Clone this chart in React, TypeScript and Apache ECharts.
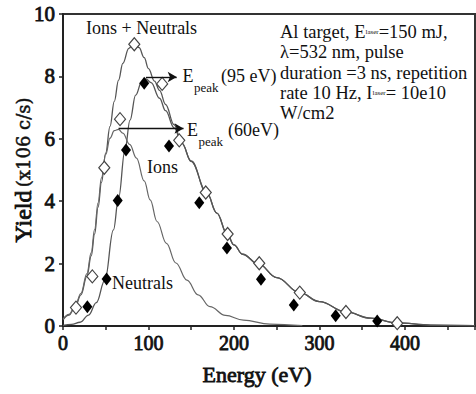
import React, { useEffect, useRef } from 'react';
import * as echarts from 'echarts';

// Measured points: ions + neutrals (open diamonds)
const totalEnergy = [15.2, 34.3, 48.3, 66.7, 83.4, 116, 136, 167, 192.6, 229.6, 277, 331, 391];
const totalYield = [0.59, 1.59, 5.07, 6.63, 9.03, 7.76, 5.95, 4.28, 2.95, 2.01, 1.07, 0.45, 0.09];

// Measured points: ions (filled diamonds)
const ionsEnergy = [28.5, 51, 64, 73.7, 95, 124, 159.4, 191.8, 231.6, 270, 319, 367.6];
const ionsYield = [0.62, 1.51, 4.02, 5.64, 7.78, 5.77, 3.95, 2.5, 1.5, 0.67, 0.33, 0.16];

// Fitted curves
const totalFitEnergy = [0, 7, 14, 21, 28, 33, 37, 41, 45, 50, 55, 60, 65, 70, 77, 83, 89, 95, 100, 107, 113, 120, 130, 139, 150, 168, 180, 192, 200, 210, 229, 250, 277, 300, 331, 360, 391, 430, 482];
const totalFitYield = [0.2, 0.35, 0.6, 1.0, 1.6, 2.25, 2.95, 3.8, 4.6, 5.55, 6.4, 7.2, 7.88, 8.42, 8.9, 9.05, 8.92, 8.6, 8.25, 7.85, 7.55, 7.1, 6.45, 5.86, 5.28, 4.28, 3.62, 2.95, 2.6, 2.3, 1.98, 1.55, 1.07, 0.78, 0.45, 0.25, 0.1, 0.03, 0.01];

const ionsFitEnergy = [0, 10, 20, 30, 39, 49, 59, 65, 72.5, 78.4, 85, 92, 97, 103, 113, 120, 130, 139, 150, 168, 180, 192, 200, 210, 229, 250, 277, 300, 331, 360, 391, 430, 482];
const ionsFitYield = [0.02, 0.05, 0.12, 0.35, 0.75, 1.47, 3.08, 4.1, 5.64, 6.6, 7.4, 7.82, 7.92, 7.8, 7.3, 6.9, 6.35, 5.86, 5.28, 4.28, 3.62, 2.95, 2.6, 2.3, 1.98, 1.55, 1.07, 0.78, 0.45, 0.25, 0.1, 0.03, 0.01];

const neutralsFitEnergy = [0, 7, 14, 21, 28, 33, 37, 41, 45, 50, 55, 60, 65, 70, 78, 86, 95, 102, 110, 121, 132, 145, 158, 172, 190, 211, 242, 280];
const neutralsFitYield = [0.22, 0.37, 0.62, 1.05, 1.68, 2.35, 3.1, 3.95, 4.75, 5.5, 6.02, 6.26, 6.3, 6.18, 5.82, 5.38, 4.65, 4.04, 3.35, 2.65, 2.02, 1.47, 1.0, 0.62, 0.34, 0.19, 0.06, 0.01];

// Peak arrows [fromEnergy, toEnergy, yield]
const peakIons = [97, 133, 7.98];
const peakNeutrals = [65, 141, 6.33];

const xTicks = [0, 100, 200, 300, 400];

const zip = (xs: number[], ys: number[]) => xs.map((x, i) => [x, ys[i]]);

const SERIF = 'Liberation Serif';
const heavy = { textBorderColor: '#111', textBorderWidth: 0.8 };

export default function App() {
  const ref = useRef<HTMLDivElement>(null);
  useEffect(() => {
    if (!ref.current) return;
    const chart = echarts.init(ref.current, undefined, { renderer: 'svg' });
    const txt = (text: string, x: number, y: number, size = 18) => ({
      type: 'text',
      x,
      y,
      silent: true,
      style: {
        text,
        fill: '#111',
        fontFamily: SERIF,
        fontSize: size,
        verticalAlign: 'middle',
        align: 'left',
      },
    });
    chart.setOption({
      animation: false,
      backgroundColor: '#fff',
      grid: {
        left: 63,
        right: 1,
        top: 14,
        bottom: 68,
        show: true,
        borderColor: '#333',
        borderWidth: 2,
        containLabel: false,
        outerBoundsMode: 'none',
      },
      xAxis: {
        type: 'value',
        min: 0,
        max: 482,
        interval: 50,
        name: 'Energy (eV)',
        nameLocation: 'middle',
        nameGap: 37,
        nameMoveOverlap: false,
        nameTextStyle: {
          fontFamily: SERIF,
          fontSize: 22,
          color: '#111',
          padding: [0, 24, 0, 0],
          ...heavy,
        },
        axisLine: { lineStyle: { color: '#222', width: 2 } },
        axisTick: { show: true, length: 4, lineStyle: { color: '#222', width: 1.5 } },
        axisLabel: {
          fontFamily: SERIF,
          fontSize: 20,
          color: '#111',
          margin: 7,
          ...heavy,
          formatter: (v: number) => (xTicks.includes(v) ? String(v) : ''),
        },
        splitLine: { show: false },
      },
      yAxis: {
        type: 'value',
        min: 0,
        max: 10,
        interval: 2,
        name: '{a|Yield} {b|(x106 c/s)}',
        nameLocation: 'middle',
        nameRotate: 90,
        nameGap: 28,
        nameMoveOverlap: false,
        nameTextStyle: {
          color: '#111',
          rich: {
            a: { fontFamily: SERIF, fontSize: 24, lineHeight: 24, color: '#111', ...heavy },
            b: { fontFamily: 'DejaVu Serif', fontSize: 18, lineHeight: 24, color: '#111', textBorderColor: '#111', textBorderWidth: 0.5 },
          },
        },
        axisLine: { lineStyle: { color: '#222', width: 2 } },
        axisTick: { show: true, length: 4, lineStyle: { color: '#222', width: 1.5 } },
        axisLabel: {
          fontFamily: SERIF,
          fontSize: 21,
          color: '#111',
          margin: 8,
          ...heavy,
        },
        splitLine: { show: false },
      },
      series: [
        {
          name: 'Ions + Neutrals fit',
          type: 'line',
          data: zip(totalFitEnergy, totalFitYield),
          smooth: 0.4,
          smoothMonotone: 'x',
          showSymbol: false,
          symbol: 'none',
          lineStyle: { color: '#555', width: 1.3 },
          z: 2,
        },
        {
          name: 'Ions fit',
          type: 'line',
          data: zip(ionsFitEnergy, ionsFitYield),
          smooth: 0.4,
          smoothMonotone: 'x',
          showSymbol: false,
          symbol: 'none',
          lineStyle: { color: '#555', width: 1.3 },
          z: 2,
        },
        {
          name: 'Neutrals fit',
          type: 'line',
          data: zip(neutralsFitEnergy, neutralsFitYield),
          smooth: 0.4,
          smoothMonotone: 'x',
          showSymbol: false,
          symbol: 'none',
          lineStyle: { color: '#666', width: 1.2 },
          z: 2,
        },
        {
          name: 'Ions + Neutrals',
          type: 'scatter',
          data: zip(totalEnergy, totalYield),
          symbol: 'diamond',
          symbolSize: [11, 13],
          itemStyle: { color: '#fff', borderColor: '#444', borderWidth: 1.2, opacity: 1 },
          z: 4,
        },
        {
          name: 'Ions',
          type: 'scatter',
          data: zip(ionsEnergy, ionsYield),
          symbol: 'diamond',
          symbolSize: [10, 13],
          itemStyle: { color: '#000', opacity: 1 },
          z: 5,
          markLine: {
            silent: true,
            symbol: ['none', 'arrow'],
            symbolSize: [8, 9],
            label: { show: false },
            lineStyle: { color: '#111', width: 1.4, type: 'solid' },
            emphasis: { disabled: true },
            data: [
              [{ coord: [peakIons[0], peakIons[2]] }, { coord: [peakIons[1], peakIons[2]] }],
              [{ coord: [peakNeutrals[0], peakNeutrals[2]] }, { coord: [peakNeutrals[1], peakNeutrals[2]] }],
            ],
          },
        },
      ],
      graphic: [
        txt('Ions + Neutrals', 86, 28, 18),
        txt('E', 182.5, 76, 18),
        txt('peak', 194, 87, 13),
        txt('(95 eV)', 221, 76, 18),
        txt('E', 187, 130, 18),
        txt('peak', 198.5, 141, 13),
        txt('(60eV)', 228, 130, 18),
        txt('Ions', 147, 167, 18),
        txt('Neutrals', 112, 283, 18),
        {
          type: 'text',
          x: 280,
          y: 22,
          silent: true,
          style: {
            text:
              '{t|Al target, E}{s|laser}{t|=150 mJ,}\n' +
              '{t|λ=532 nm, pulse}\n' +
              '{t|duration =3 ns, repetition}\n' +
              '{t|rate 10 Hz, I}{s|laser}{t|= 10e10}\n' +
              '{t|W/cm2}',
            verticalAlign: 'top',
            align: 'left',
            rich: {
              t: { fontFamily: SERIF, fontSize: 18.5, lineHeight: 20.3, fill: '#111' },
              s: { fontFamily: SERIF, fontSize: 7, lineHeight: 20.3, fill: '#111' },
            },
          },
        },
      ],
    });
    return () => chart.dispose();
  }, []);
  return (
    <div
      ref={ref}
      style={{ position: 'fixed', left: 0, top: 0, width: 476, height: 394, background: '#fff' }}
    />
  );
}
